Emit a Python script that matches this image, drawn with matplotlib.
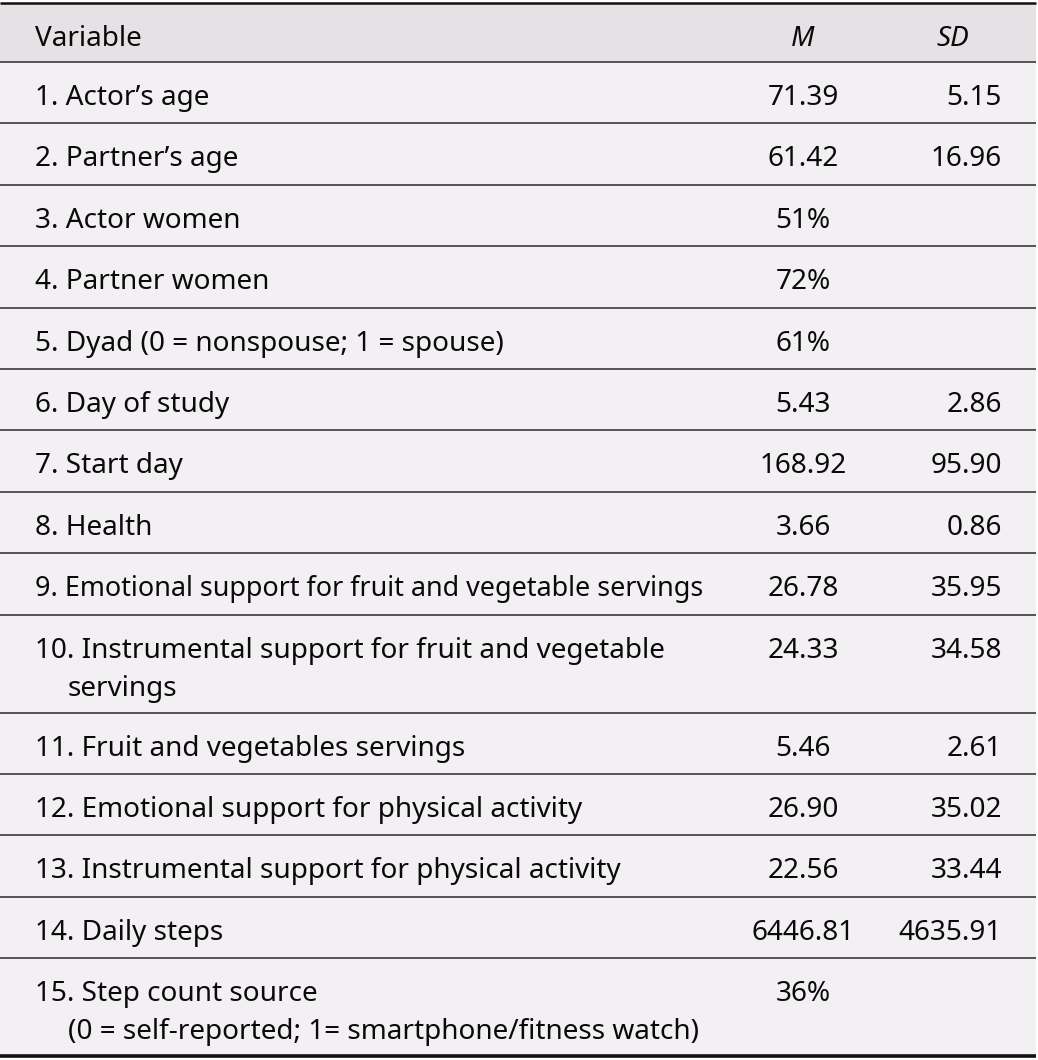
import matplotlib.pyplot as plt
from matplotlib.patches import Rectangle

plt.rcParams['font.family'] = ['Noto Sans', 'DejaVu Sans']

# table content
header = ['Variable', 'M', 'SD']
variables = [
    '1. Actor\u2019s age',
    '2. Partner\u2019s age',
    '3. Actor women',
    '4. Partner women',
    '5. Dyad (0 = nonspouse; 1 = spouse)',
    '6. Day of study',
    '7. Start day',
    '8. Health',
    '9. Emotional support for fruit and vegetable servings',
    '10. Instrumental support for fruit and vegetable\nservings',
    '11. Fruit and vegetables servings',
    '12. Emotional support for physical activity',
    '13. Instrumental support for physical activity',
    '14. Daily steps',
    '15. Step count source\n(0 = self-reported; 1= smartphone/fitness watch)',
]
means = ['71.39', '61.42', '51%', '72%', '61%', '5.43', '168.92', '3.66',
         '26.78', '24.33', '5.46', '26.90', '22.56', '6446.81', '36%']
sds = ['5.15', '16.96', '', '', '', '2.86', '95.90', '0.86',
       '35.95', '34.58', '2.61', '35.02', '33.44', '4635.91', '']

W, H = 1038, 1060
fig = plt.figure(figsize=(W / 100, H / 100), dpi=100)
ax = fig.add_axes([0, 0, 1, 1])
ax.set_xlim(0, W)
ax.set_ylim(H, 0)
ax.axis('off')

left, right = 0, 1036
top = 3
header_h = 59
single_h = 61.4
double_h = 98
fs = 20.1
fs_tight = 19.4   # the long row 9 is set a bit tighter in the original
bg = '#f3f0f3'
hdr_bg = '#e6e1e5'
ink = '#0a0a0a'

x_var, x_indent = 35, 68
x_m, x_sd, x_sd_hdr = 803, 1002, 953

# row geometry
heights = [double_h if '\n' in v else single_h for v in variables]
total = header_h + sum(heights)

ax.add_patch(Rectangle((left, top), right - left, total, facecolor=bg, edgecolor='none'))
ax.add_patch(Rectangle((left, top), right - left, header_h, facecolor=hdr_bg, edgecolor='none'))

# header
base = top + 43
ax.text(x_var, base, header[0], fontsize=fs, va='baseline', ha='left', color=ink)
ax.text(x_m, base, header[1], fontsize=fs, va='baseline', ha='center', style='italic', color=ink)
ax.text(x_sd_hdr, base, header[2], fontsize=fs, va='baseline', ha='center', style='italic', color=ink)

y = top + header_h
ax.plot([left, right], [top, top], color='#111111', lw=1.8, solid_capstyle='butt')
for var, m, sd, h in zip(variables, means, sds, heights):
    ax.plot([left, right], [y, y], color='#3a3a3a', lw=1.2, solid_capstyle='butt')
    base = y + 43
    lines = var.split('\n')
    size = fs_tight if len(lines[0]) > 50 else fs
    ax.text(x_var, base, lines[0], fontsize=size, va='baseline', ha='left', color=ink)
    for k, extra in enumerate(lines[1:]):
        ax.text(x_indent, base + 38 * (k + 1), extra, fontsize=fs, va='baseline', ha='left', color=ink)
    ax.text(x_m, base, m, fontsize=fs, va='baseline', ha='center', color=ink)
    ax.text(x_sd, base, sd, fontsize=fs, va='baseline', ha='right', color=ink)
    y += h
ax.plot([left, right], [y, y], color='#111111', lw=2.6, solid_capstyle='butt')

fig.savefig('out.png', dpi=100)
